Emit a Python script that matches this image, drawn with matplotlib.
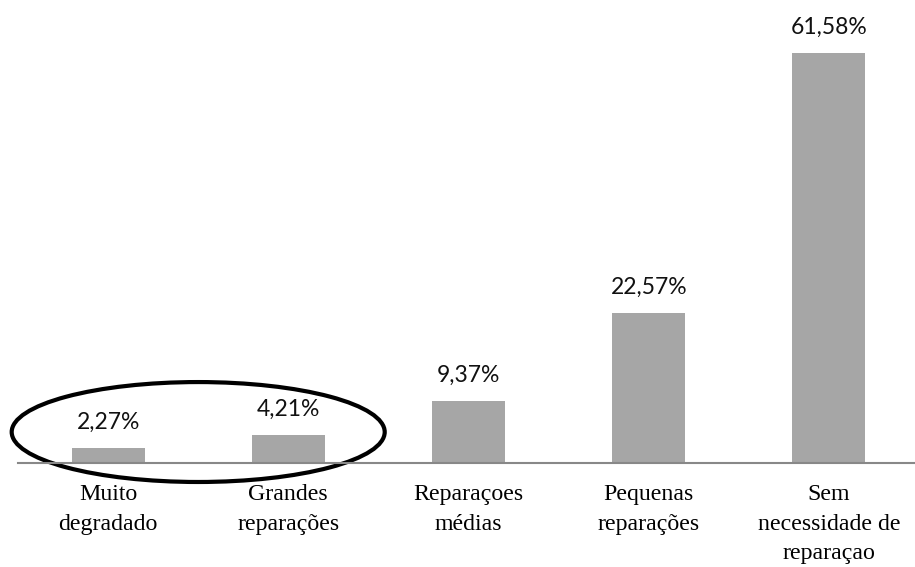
import matplotlib.pyplot as plt
from matplotlib.patches import Ellipse

categories = ["Muito\ndegradado", "Grandes\nreparações", "Reparaçoes\nmédias",
              "Pequenas\nreparações", "Sem\nnecessidade de\nreparaçao"]
values = [2.27, 4.21, 9.37, 22.57, 61.58]
value_labels = ["2,27%", "4,21%", "9,37%", "22,57%", "61,58%"]

fig = plt.figure(figsize=(9.15, 5.67), dpi=100)
ax = fig.add_axes([18 / 915, 104 / 567, 901 / 915, 463 / 567])

x = list(range(len(values)))
ax.bar(x, values, width=0.405, color="#a6a6a6")
ax.set_xlim(-0.5, 4.5)
ax.set_ylim(0, 69.5)

for xi, v, lab in zip(x, values, value_labels):
    ax.text(xi, v + 2.2, lab, ha="center", va="bottom", fontsize=16.5,
            family="Lato", color="#111111")

ax.set_xticks(x)
ax.set_xticklabels(categories, family="Liberation Serif", fontsize=17.2,
                   linespacing=1.55)
ax.tick_params(axis="x", length=0, pad=15)
ax.set_yticks([])
for side in ["top", "right", "left"]:
    ax.spines[side].set_visible(False)
ax.spines["bottom"].set_color("#888888")
ax.spines["bottom"].set_linewidth(1.5)

# highlight ellipse around the two smallest categories
ell = Ellipse((0.5, 4.65), 2.07, 15.0, fill=False, edgecolor="black",
              linewidth=3, clip_on=False)
ax.add_patch(ell)

fig.savefig("out.png", dpi=100)
